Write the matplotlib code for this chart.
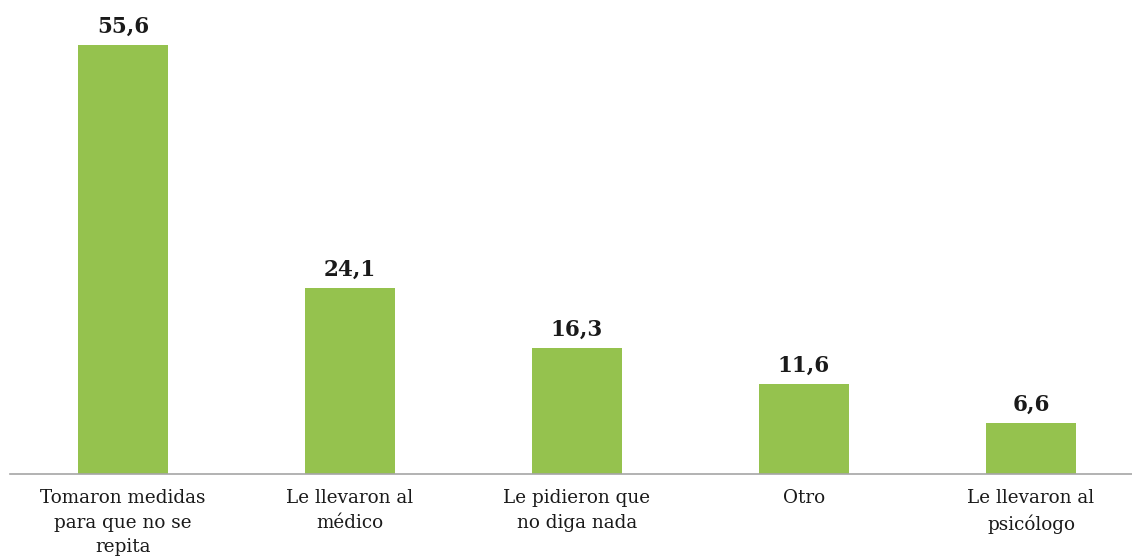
import matplotlib
matplotlib.use("Agg")
import matplotlib.pyplot as plt

categories = ["Tomaron medidas\npara que no se\nrepita", "Le llevaron al\nmédico",
              "Le pidieron que\nno diga nada", "Otro", "Le llevaron al\npsicólogo"]
values = [55.6, 24.1, 16.3, 11.6, 6.6]
value_labels = ["55,6", "24,1", "16,3", "11,6", "6,6"]

plt.rcParams['font.family'] = ['DejaVu Serif']

fig = plt.figure(figsize=(11.32, 5.57), dpi=100)
ax = fig.add_axes([9.5 / 1132, 83 / 557, 1135 / 1132, 474 / 557])

x = range(len(categories))
bars = ax.bar(x, values, width=0.397, color="#95c24e")
ax.set_xlim(-0.5, 4.5)
ax.set_ylim(0, 61.43)

for b, lab in zip(bars, value_labels):
    ax.annotate(lab, (b.get_x() + b.get_width() / 2, b.get_height()),
                xytext=(0, 5.5), textcoords="offset points", ha="center", va="bottom",
                fontsize=15.5, fontweight="heavy", color="#1a1a1a")

ax.set_xticks(list(x))
ax.set_xticklabels(categories, fontsize=13.2, color="#1a1a1a", linespacing=1.47, va="top")
ax.tick_params(axis="x", length=0, pad=11)
ax.set_yticks([])
for s in ["top", "right", "left"]:
    ax.spines[s].set_visible(False)
ax.spines["bottom"].set_color("#a6a6a6")
ax.spines["bottom"].set_linewidth(1.2)

fig.savefig("out.png", dpi=100)
